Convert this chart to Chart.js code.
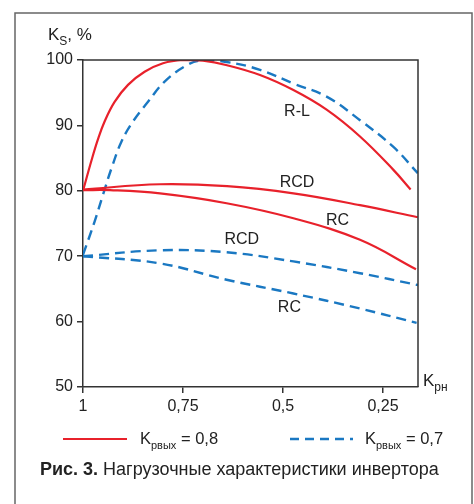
<!DOCTYPE html>
<html>
<head>
<meta charset="utf-8">
<script src="https://cdn.jsdelivr.net/npm/chart.js@4.4.1/dist/chart.umd.min.js"></script>
<style>
  html, body { margin: 0; padding: 0; background: #fff; }
  #wrap { width: 474px; height: 504px; position: relative; }
</style>
</head>
<body>
<div id="wrap"><canvas id="chart" width="474" height="504"></canvas></div>
<script>
// axis ticks
const xTicks = [1, 0.75, 0.5, 0.25];
const yTicks = [50, 60, 70, 80, 90, 100];

// Kрвых = 0,8 (red, solid)
const redRL_x = [1, 0.979, 0.9625, 0.946, 0.921, 0.8875, 0.846, 0.80, 0.75, 0.70, 0.64, 0.5575, 0.474, 0.391, 0.3075, 0.224, 0.181];
const redRL_y = [80, 84.6, 87.9, 90.6, 93.6, 96.2, 98.2, 99.5, 100, 99.9, 99.2, 97.7, 95.4, 92.4, 88.3, 83.2, 80.2];
const redRCD_x = [1, 0.8075, 0.64, 0.474, 0.3075, 0.163];
const redRCD_y = [80.2, 81.0, 80.7, 79.6, 77.8, 75.95];
const redRC_x = [1, 0.9325, 0.8075, 0.641, 0.474, 0.3075, 0.1675];
const redRC_y = [80.1, 80.1, 79.6, 78.1, 75.8, 72.5, 68.0];

// Kрвых = 0,7 (blue, dashed)
const blueRL_x = [1, 0.971, 0.95, 0.929, 0.904, 0.875, 0.8375, 0.796, 0.746, 0.7075, 0.641, 0.5575, 0.474, 0.391, 0.3075, 0.224, 0.163];
const blueRL_y = [70.2, 75.3, 79.4, 83.4, 87.5, 90.6, 93.6, 96.7, 99.0, 99.9, 99.7, 98.5, 96.4, 94.4, 90.8, 86.7, 82.7];
const blueRCD_x = [1, 0.8075, 0.641, 0.474, 0.3075, 0.163];
const blueRCD_y = [70.0, 70.9, 70.6, 69.2, 67.4, 65.6];
const blueRC_x = [1, 0.8075, 0.641, 0.474, 0.3075, 0.166];
const blueRC_y = [70.0, 68.9, 66.4, 64.3, 62.0, 59.8];

// curve labels: text and where they sit (data units)
const curveLabels = ['R-L', 'RCD', 'RC', 'RCD', 'RC'];
const curveLabelX = [0.465, 0.465, 0.3635, 0.603, 0.484];
const curveLabelY = [92.05, 81.2, 75.4, 72.6, 62.1];

const RED = '#e8212b';
const BLUE = '#1a78c2';
const INK = '#222';
const SANS = "'Liberation Sans', Arial, sans-serif";

function pts(xs, ys) {
  return xs.map((x, i) => ({ x: x, y: ys[i] }));
}

function line(xs, ys, color, dashed) {
  return {
    data: pts(xs, ys),
    borderColor: color,
    borderWidth: dashed ? 2.4 : 2.2,
    borderDash: dashed ? [10, 6] : [],
    pointRadius: 0,
    fill: false,
    tension: 0.4
  };
}

// K with subscript, then the rest of the string
function subText(ctx, x, y, main, sub, rest, size, subSize, font) {
  ctx.font = size + 'px ' + font;
  ctx.fillText(main, x, y);
  let w = ctx.measureText(main).width;
  ctx.font = subSize + 'px ' + font;
  ctx.fillText(sub, x + w, y + size * 0.3);
  w += ctx.measureText(sub).width;
  if (rest) {
    ctx.font = size + 'px ' + font;
    ctx.fillText(rest, x + w, y);
  }
}

const extras = {
  id: 'extras',
  afterDraw(chart) {
    const ctx = chart.ctx;
    const a = chart.chartArea;
    const sx = chart.scales.x, sy = chart.scales.y;
    ctx.save();

    // outer frame
    ctx.strokeStyle = '#666';
    ctx.lineWidth = 1.5;
    ctx.strokeRect(15, 13, 457, 520);

    // top and right sides of the plot box
    ctx.strokeStyle = '#333';
    ctx.lineWidth = 1.5;
    ctx.beginPath();
    ctx.moveTo(a.left, a.top);
    ctx.lineTo(a.right, a.top);
    ctx.lineTo(a.right, a.bottom);
    ctx.stroke();

    ctx.fillStyle = INK;
    ctx.textBaseline = 'middle';
    ctx.textAlign = 'center';
    ctx.font = '16px ' + SANS;
    curveLabels.forEach((t, i) => {
      ctx.fillText(t, sx.getPixelForValue(curveLabelX[i]), sy.getPixelForValue(curveLabelY[i]));
    });

    ctx.textAlign = 'left';
    ctx.textBaseline = 'alphabetic';
    subText(ctx, 48, 39.5, 'K', 'S', ', %', 17, 12, SANS);
    subText(ctx, 423, 386, 'K', 'рн', '', 17, 12, SANS);

    // legend
    ctx.lineWidth = 2.2;
    ctx.strokeStyle = RED;
    ctx.beginPath();
    ctx.moveTo(63, 439); ctx.lineTo(127, 439);
    ctx.stroke();
    ctx.strokeStyle = BLUE;
    ctx.lineWidth = 2.4;
    ctx.setLineDash([9, 6]);
    ctx.beginPath();
    ctx.moveTo(290, 439); ctx.lineTo(353, 439);
    ctx.stroke();
    ctx.setLineDash([]);
    subText(ctx, 140, 444, 'K', 'рвых', ' = 0,8', 16.5, 11, SANS);
    subText(ctx, 365, 444, 'K', 'рвых', ' = 0,7', 16.5, 11, SANS);

    // caption
    ctx.font = 'bold 18px ' + SANS;
    const bold = 'Рис. 3.';
    ctx.fillText(bold, 40, 475);
    const bw = ctx.measureText(bold).width;
    ctx.font = '18px ' + SANS;
    ctx.fillText(' Нагрузочные характеристики инвертора', 40 + bw, 475);

    ctx.restore();
  }
};

new Chart(document.getElementById('chart'), {
  type: 'line',
  data: {
    datasets: [
      line(redRL_x, redRL_y, RED, false),
      line(redRCD_x, redRCD_y, RED, false),
      line(redRC_x, redRC_y, RED, false),
      line(blueRL_x, blueRL_y, BLUE, true),
      line(blueRCD_x, blueRCD_y, BLUE, true),
      line(blueRC_x, blueRC_y, BLUE, true)
    ]
  },
  options: {
    responsive: false,
    animation: false,
    layout: { padding: { left: 0, top: 60, right: 56, bottom: 0 } },
    plugins: { legend: { display: false }, tooltip: { enabled: false } },
    scales: {
      x: {
        type: 'linear',
        reverse: true,
        min: 0.1625,
        max: 1,
        afterBuildTicks: s => { s.ticks = xTicks.map(v => ({ value: v })); },
        afterFit: s => { s.height = 504 - 387; },
        ticks: {
          padding: 4,
          color: INK,
          font: { size: 16, family: SANS },
          callback: v => String(v).replace('.', ',')
        },
        grid: { drawOnChartArea: false, drawTicks: true, tickLength: 6, color: '#333', lineWidth: 1.5 },
        border: { color: '#333', width: 1.5 }
      },
      y: {
        min: 50,
        max: 100,
        afterBuildTicks: s => { s.ticks = yTicks.map(v => ({ value: v })); },
        afterFit: s => { s.width = 83; },
        ticks: {
          padding: 4,
          color: INK,
          font: { size: 16, family: SANS }
        },
        grid: { drawOnChartArea: false, drawTicks: true, tickLength: 6, color: '#333', lineWidth: 1.5 },
        border: { color: '#333', width: 1.5 }
      }
    }
  },
  plugins: [extras]
});
</script>
</body>
</html>
